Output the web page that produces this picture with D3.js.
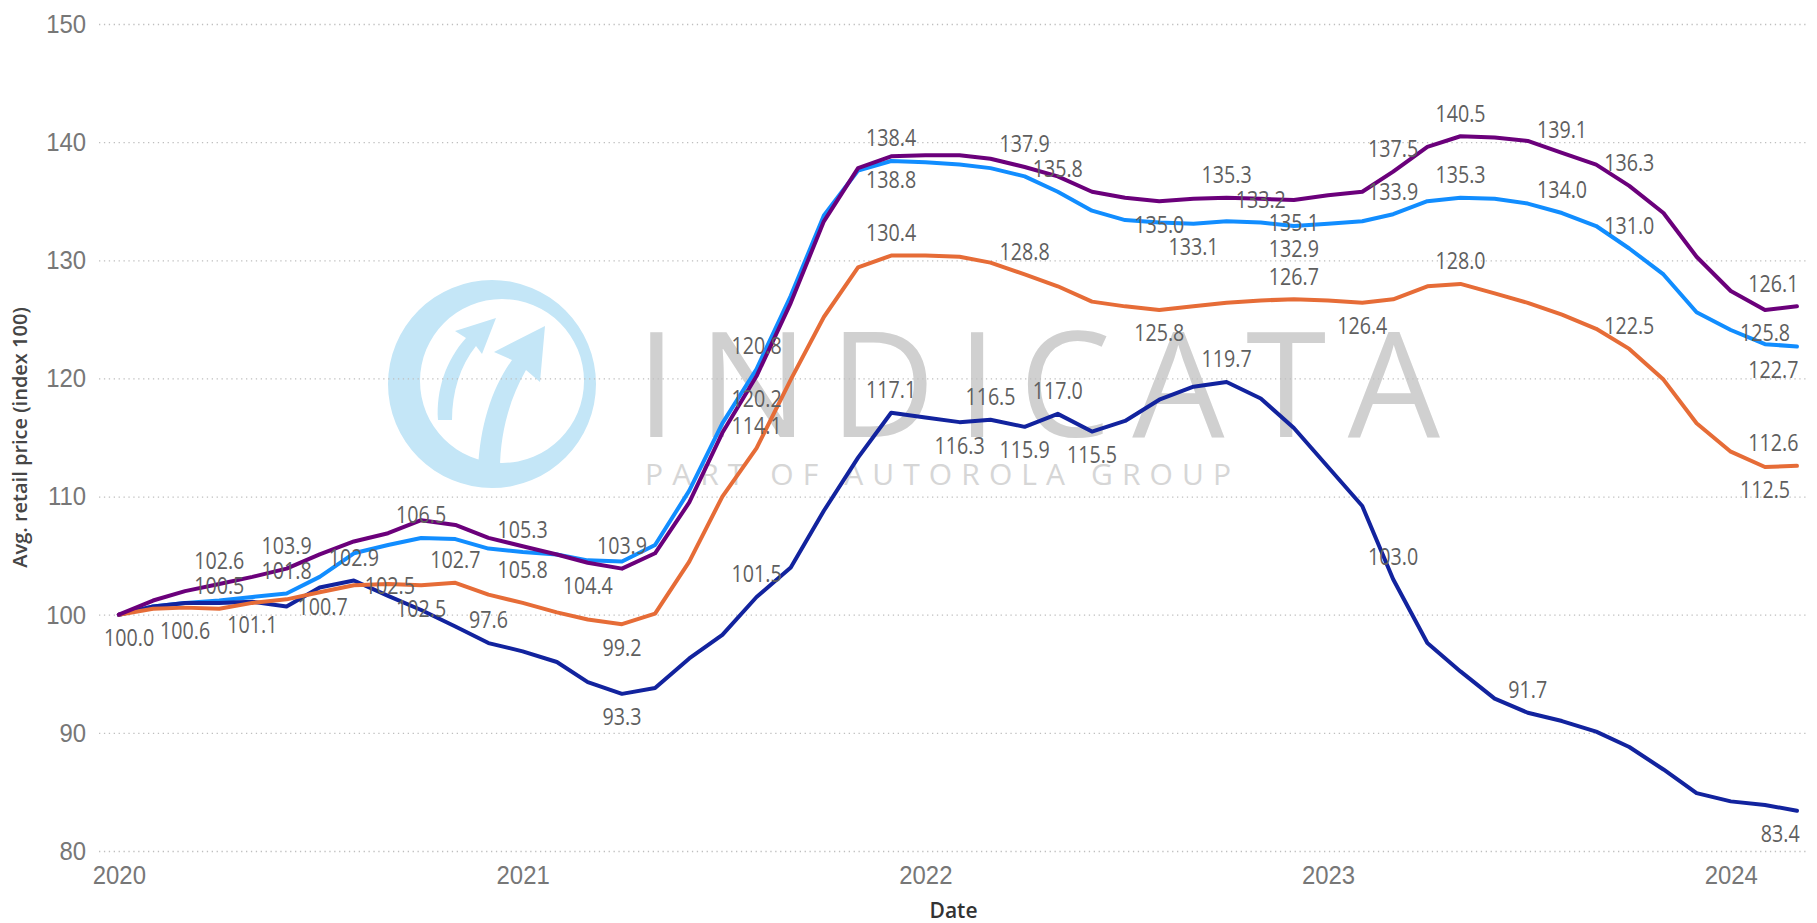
<!DOCTYPE html>
<html>
<head>
<meta charset="utf-8">
<script src="https://cdn.jsdelivr.net/npm/d3@7"></script>
<style>
  body { margin: 0; background: #fff; }
  svg { display: block; font-family: "Open Sans", "Noto Sans", sans-serif; }
</style>
</head>
<body>
<div id="chart"></div>
<script>
// Chart params
const svgWidth = 1817;
const svgHeight = 923;
const plot = { left: 99, right: 1808, top: 24, bottom: 851 };

// Monthly points, Jan 2020 .. Mar 2024
const months = d3.timeMonth.range(new Date(2020, 0, 1), new Date(2024, 3, 1));
const yearTicks = [2020, 2021, 2022, 2023, 2024];
const yTicks = [80, 90, 100, 110, 120, 130, 140, 150];

// Avg. retail price index, one value per month
const blueValues = [100.0, 100.7, 101.0, 101.2, 101.5, 101.8, 103.2, 105.2, 105.9, 106.5,
  106.4, 105.6, 105.3, 105.1, 104.6, 104.5, 105.9, 110.5, 116.2, 120.8,
  127.0, 133.8, 137.6, 138.4, 138.3, 138.1, 137.8, 137.1, 135.8, 134.2,
  133.4, 133.2, 133.1, 133.3, 133.2, 132.9, 133.1, 133.3, 133.9, 135.0,
  135.3, 135.2, 134.8, 134.0, 132.9, 131.0, 128.8, 125.6, 124.1, 122.9, 122.7];
const navyValues = [100.0, 100.7, 101.0, 101.0, 101.1, 100.7, 102.3, 102.9, 101.6, 100.4,
  99.0, 97.6, 96.9, 96.0, 94.3, 93.3, 93.8, 96.3, 98.3, 101.5,
  104.0, 108.8, 113.3, 117.1, 116.7, 116.3, 116.5, 115.9, 117.0, 115.5,
  116.4, 118.2, 119.3, 119.7, 118.3, 115.8, 112.5, 109.2, 103.0, 97.6,
  95.2, 92.9, 91.7, 91.0, 90.1, 88.8, 86.9, 84.9, 84.2, 83.9, 83.4];
const orangeValues = [100.0, 100.5, 100.6, 100.5, 101.0, 101.3, 101.9, 102.5, 102.6, 102.5,
  102.7, 101.7, 101.0, 100.2, 99.6, 99.2, 100.1, 104.5, 110.0, 114.1,
  119.9, 125.2, 129.4, 130.4, 130.4, 130.3, 129.8, 128.8, 127.8, 126.5,
  126.1, 125.8, 126.1, 126.4, 126.6, 126.7, 126.6, 126.4, 126.7, 127.8,
  128.0, 127.2, 126.4, 125.4, 124.2, 122.5, 119.9, 116.2, 113.8, 112.5, 112.6];
const purpleValues = [100.0, 101.2, 102.0, 102.6, 103.2, 103.9, 105.1, 106.2, 106.9, 108.0,
  107.6, 106.5, 105.8, 105.1, 104.4, 103.9, 105.2, 109.5, 115.4, 120.2,
  126.4, 133.3, 137.8, 138.8, 138.9, 138.9, 138.6, 137.9, 137.1, 135.8,
  135.3, 135.0, 135.2, 135.3, 135.2, 135.1, 135.5, 135.8, 137.5, 139.6,
  140.5, 140.4, 140.1, 139.1, 138.1, 136.3, 134.0, 130.3, 127.4, 125.8, 126.1];

// Points that carry a data label: [month index, a = above, b = below, r = right]
const blueLabels = [[5, "a"], [9, "a"], [12, "a"], [19, "a"], [23, "a"], [28, "a"], [32, "b"],
  [34, "a"], [35, "b"], [38, "a"], [40, "a"], [43, "a"], [45, "a"], [50, "b"]];
const navyLabels = [[0, "b"], [4, "b"], [5, "r"], [7, "a"], [11, "a"], [15, "b"], [19, "a"],
  [23, "a"], [25, "b"], [26, "a"], [27, "b"], [28, "a"], [29, "b"], [33, "a"], [38, "a"],
  [42, "a"], [50, "b"]];
const orangeLabels = [[2, "b"], [3, "a"], [7, "r"], [9, "b"], [10, "a"], [15, "b"], [19, "a"],
  [23, "a"], [27, "a"], [31, "b"], [35, "a"], [37, "b"], [40, "a"], [45, "a"], [49, "b"], [50, "a"]];
const purpleLabels = [[3, "a"], [5, "a"], [12, "b"], [14, "b"], [15, "a"], [19, "b"], [23, "b"],
  [27, "a"], [31, "b"], [33, "a"], [35, "b"], [38, "a"], [40, "a"], [43, "a"], [45, "a"],
  [49, "b"], [50, "a"]];

const series = [
  { values: blueValues, labels: blueLabels, color: "#118DFF" },
  { values: navyValues, labels: navyLabels, color: "#12239E" },
  { values: orangeValues, labels: orangeLabels, color: "#E66C37" },
  { values: purpleValues, labels: purpleLabels, color: "#6B007B" }
];

const svg = d3.select("#chart")
  .append("svg")
  .attr("width", svgWidth)
  .attr("height", svgHeight);

// Scales
const x = d3.scaleTime()
  .domain([new Date(2019, 11, 14), new Date(2024, 2, 11)])
  .range([plot.left, plot.right]);
const y = d3.scaleLinear()
  .domain([80, 150])
  .range([plot.bottom, plot.top]);

// Watermark (behind everything)
function circlePath(cx, cy, r) {
  return `M${cx - r},${cy}a${r},${r} 0 1,0 ${2 * r},0a${r},${r} 0 1,0 ${-2 * r},0Z`;
}
const wm = svg.append("g").attr("class", "watermark");
wm.append("path")
  .attr("fill", "#C4E6F7")
  .attr("fill-rule", "evenodd")
  .attr("d", circlePath(492, 384, 104) + circlePath(502, 381, 82));
// swoosh arrow inside the ring
wm.append("path")
  .attr("fill", "#C4E6F7")
  .attr("d", "M478,470 C480,425 492,388 512,360 L494,352 L545,326 L540,382 L526,370 C510,398 500,432 500,470 Z");
wm.append("path")
  .attr("fill", "#C4E6F7")
  .attr("d", "M438,420 C436,390 446,360 466,338 L455,331 L496,318 L482,354 L476,346 C460,366 452,392 452,420 Z");
wm.append("text")
  .attr("x", 636)
  .attr("y", 437)
  .attr("font-size", 146)
  .attr("fill", "#D0D0D0")
  .attr("textLength", 804)
  .attr("lengthAdjust", "spacing")
  .text("INDICATA");
wm.append("text")
  .attr("x", 645)
  .attr("y", 485)
  .attr("font-size", 30)
  .attr("fill", "#D6D6D6")
  .attr("textLength", 586)
  .attr("lengthAdjust", "spacing")
  .text("PART OF AUTOROLA GROUP");

// Gridlines + y tick labels
const yAxis = svg.append("g")
  .attr("transform", `translate(${plot.left},0)`)
  .call(d3.axisLeft(y)
    .tickValues(yTicks)
    .tickSize(-(plot.right - plot.left))
    .tickPadding(14));
yAxis.select(".domain").remove();
yAxis.selectAll(".tick line")
  .attr("stroke", "#BEBEBE")
  .attr("stroke-width", 1.3)
  .attr("stroke-dasharray", "1.3,3.6");
yAxis.selectAll(".tick text")
  .attr("font-size", 26)
  .attr("font-family", null)
  .attr("fill", "#777")
  .attr("transform", "scale(0.92,1)");

// x tick labels
const xAxis = svg.append("g")
  .attr("transform", `translate(0,${plot.bottom})`)
  .call(d3.axisBottom(x)
    .tickValues(yearTicks.map(yr => new Date(yr, 0, 1)))
    .tickFormat(d3.timeFormat("%Y"))
    .tickSize(0)
    .tickPadding(15));
xAxis.select(".domain").remove();
xAxis.selectAll(".tick text")
  .attr("font-size", 26)
  .attr("font-family", null)
  .attr("fill", "#777")
  .attr("transform", "scale(0.92,1)");

// Axis titles
svg.append("text")
  .attr("transform", `translate(20,${(plot.top + plot.bottom) / 2}) rotate(-90)`)
  .attr("text-anchor", "middle")
  .attr("dy", "0.35em")
  .attr("font-size", 20)
  .attr("font-weight", 600)
  .attr("fill", "#454545")
  .text("Avg. retail price (index 100)");
svg.append("text")
  .attr("x", (plot.left + plot.right) / 2)
  .attr("y", 918)
  .attr("text-anchor", "middle")
  .attr("font-size", 21)
  .attr("font-weight", 600)
  .attr("fill", "#333")
  .text("Date");

// Lines
const line = d3.line()
  .x((d, i) => x(months[i]))
  .y(d => y(d));

svg.append("g").selectAll("path")
  .data(series)
  .enter()
  .append("path")
  .attr("fill", "none")
  .attr("stroke", d => d.color)
  .attr("stroke-width", 4)
  .attr("stroke-linejoin", "round")
  .attr("stroke-linecap", "round")
  .attr("d", d => line(d.values));

// Data labels
const fmt = d3.format(".1f");
const squeeze = 0.82;
const labelGroup = svg.append("g");
series.forEach(function(s) {
  s.labels.forEach(function([i, pos]) {
    const px = x(months[i]);
    const py = y(s.values[i]);
    let lx = px, ly = py;
    if (pos === "a") ly = py - 23;
    else if (pos === "b") ly = py + 23;
    else lx = px + 36;
    const t = labelGroup.append("text")
      .attr("text-anchor", "middle")
      .attr("dy", "0.35em")
      .attr("font-size", 24)
      .attr("fill", "#5F5F5F")
      .text(fmt(s.values[i]));
    const w = t.node().getComputedTextLength();
    lx = Math.max(lx, plot.left + 5 + w * squeeze / 2);
    lx = Math.min(lx, plot.right - 4 - w / 2);
    t.attr("transform", `translate(${lx},${ly}) scale(${squeeze},1)`);
  });
});
</script>
</body>
</html>
